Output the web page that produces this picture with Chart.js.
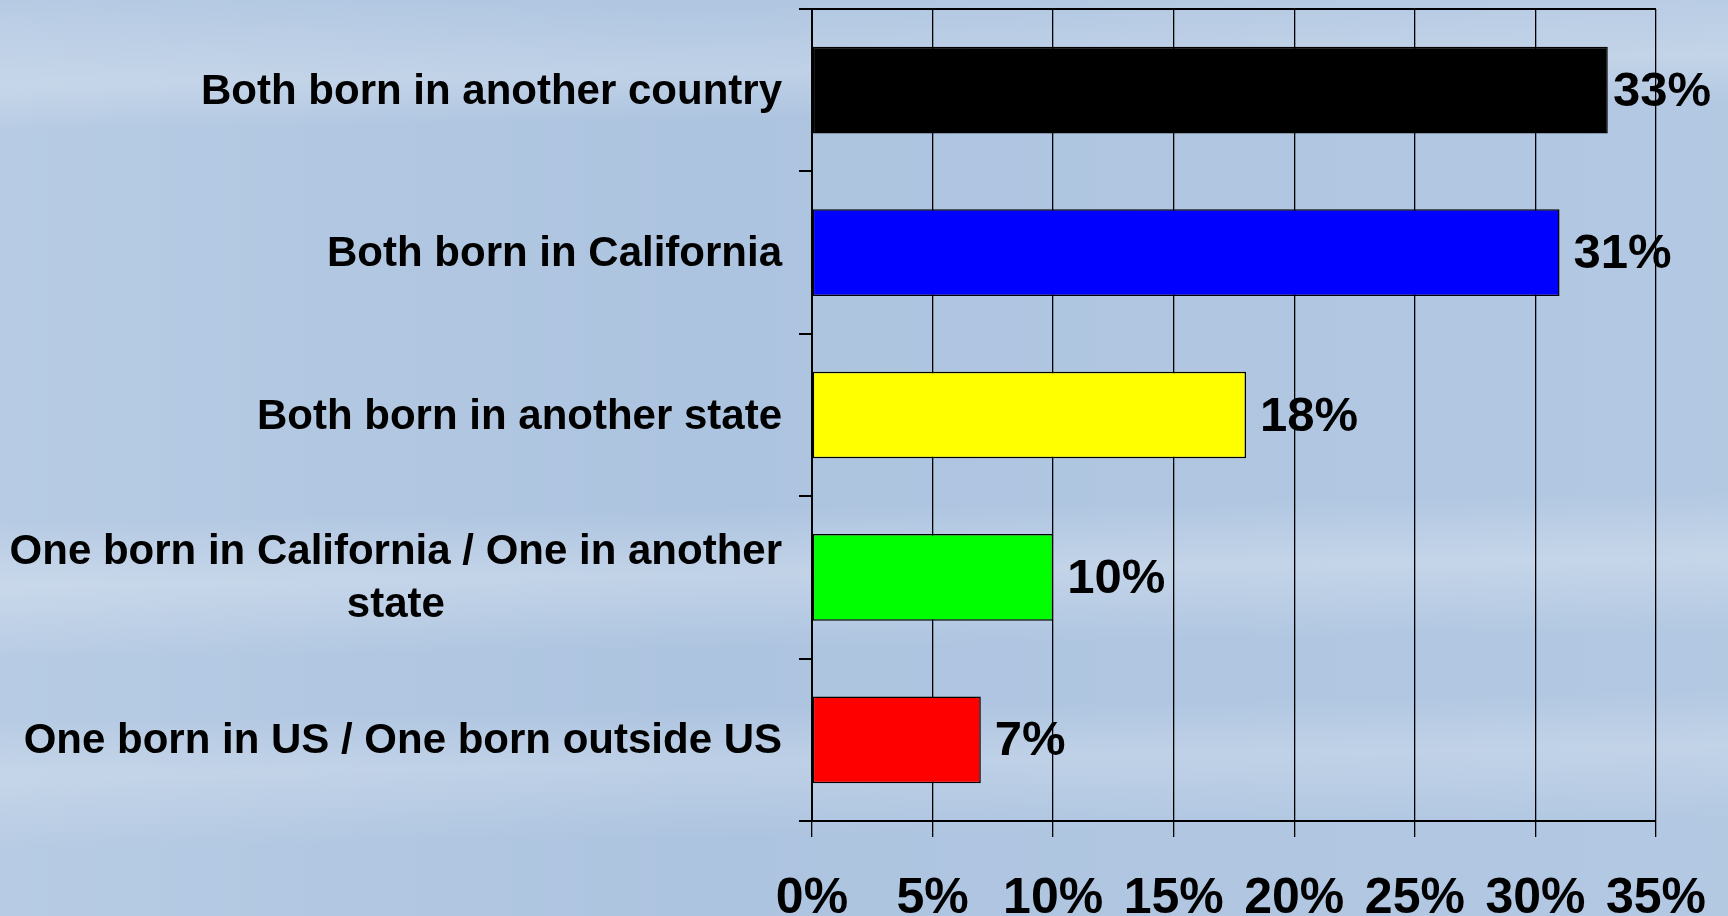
<!DOCTYPE html>
<html>
<head>
<meta charset="utf-8">
<script src="https://cdn.jsdelivr.net/npm/chart.js@4.4.1/dist/chart.umd.min.js"></script>
<style>
  html, body { margin: 0; padding: 0; overflow: hidden; }
  body {
    width: 1728px; height: 916px;
    background:
      linear-gradient(179deg, rgba(255,255,255,0) 0%, rgba(255,255,255,0.22) 9%, rgba(255,255,255,0) 14%,
                      rgba(255,255,255,0) 55%, rgba(255,255,255,0.25) 62%, rgba(255,255,255,0) 70%,
                      rgba(255,255,255,0) 76%, rgba(255,255,255,0.2) 82%, rgba(255,255,255,0) 90%),
      linear-gradient(90deg, rgba(255,255,255,0.12) 0%, rgba(255,255,255,0) 40%, rgba(255,255,255,0.08) 100%),
      #adc4e0;
  }
  canvas { display: block; }
</style>
</head>
<body>
<canvas id="bornChart" width="1728" height="916"></canvas>
<script>
const categories = [
    ['Both born in another country'],
    ['Both born in California'],
    ['Both born in another state'],
    ['One born in California / One in another', 'state'],
    ['One born in US / One born outside US']
];
const shares    = [33, 31, 18, 10, 7];
const barColors = ['#000000', '#0000ff', '#ffff00', '#00ff00', '#ff0000'];
const axisMin = 0, axisMax = 35, axisStep = 5;

const fontFamily = "'Liberation Sans', Arial, sans-serif";

// カテゴリラベル（複数行は中央揃え、ブロックは右揃え）
const categoryLabels = {
    id: 'categoryLabels',
    afterDraw(chart) {
        const { ctx, scales: { y } } = chart;
        const right = y.right - 30;
        const lineHeight = 53;
        ctx.save();
        ctx.font = `bold 42px ${fontFamily}`;
        ctx.fillStyle = '#000';
        ctx.textAlign = 'center';
        ctx.textBaseline = 'middle';
        categories.forEach((lines, i) => {
            const cy = y.getPixelForValue(i) + 2;
            const blockW = Math.max(...lines.map(l => ctx.measureText(l).width));
            const cx = right - blockW / 2;
            lines.forEach((line, j) => {
                ctx.fillText(line, cx, cy + (j - (lines.length - 1) / 2) * lineHeight);
            });
        });
        ctx.restore();
    }
};

// 値ラベル
const valueLabels = {
    id: 'valueLabels',
    afterDatasetsDraw(chart) {
        const { ctx } = chart;
        const meta = chart.getDatasetMeta(0);
        ctx.save();
        ctx.font = `bold 49px ${fontFamily}`;
        ctx.fillStyle = '#000';
        ctx.textAlign = 'left';
        ctx.textBaseline = 'middle';
        meta.data.forEach((bar, i) => {
            const text = shares[i] + '%';
            const w = ctx.measureText(text).width;
            const x = Math.min(bar.x + 14, chart.width - w - 17);
            ctx.fillText(text, x, bar.y + 2);
        });
        ctx.restore();
    }
};

new Chart(document.getElementById('bornChart').getContext('2d'), {
    type: 'bar',
    data: {
        labels: categories,
        datasets: [{
            data: shares,
            backgroundColor: barColors,
            borderColor: '#000',
            borderWidth: 1.5,
            borderSkipped: false,
            barPercentage: 0.534,
            categoryPercentage: 1
        }]
    },
    options: {
        responsive: false,
        animation: false,
        indexAxis: 'y',
        layout: { padding: { top: 9, right: 72, left: 0, bottom: 0 } },
        plugins: {
            legend: { display: false },
            tooltip: { enabled: false }
        },
        scales: {
            x: {
                min: axisMin,
                max: axisMax,
                ticks: {
                    stepSize: axisStep,
                    callback: v => v + '%',
                    color: '#000',
                    font: { family: fontFamily, size: 50, weight: 'bold' },
                    padding: 32,
                    maxRotation: 0,
                    autoSkip: false
                },
                grid: { color: '#000', lineWidth: 1.3, tickLength: 16, tickWidth: 1.3 },
                border: { color: '#000', width: 2 },
                afterFit: s => {
                    s.height = 95;
                    s.paddingLeft = 0;
                    s.paddingRight = 0;
                }
            },
            y: {
                ticks: { display: false },
                grid: {
                    offset: true,
                    color: c => (c.type !== 'tick' || c.index === 0) ? '#000' : 'rgba(0,0,0,0)',
                    tickColor: '#000',
                    tickLength: 13,
                    lineWidth: 2
                },
                border: { color: '#000', width: 2 },
                afterFit: s => { s.width = 812; }
            }
        }
    },
    plugins: [categoryLabels, valueLabels]
});
</script>
</body>
</html>
